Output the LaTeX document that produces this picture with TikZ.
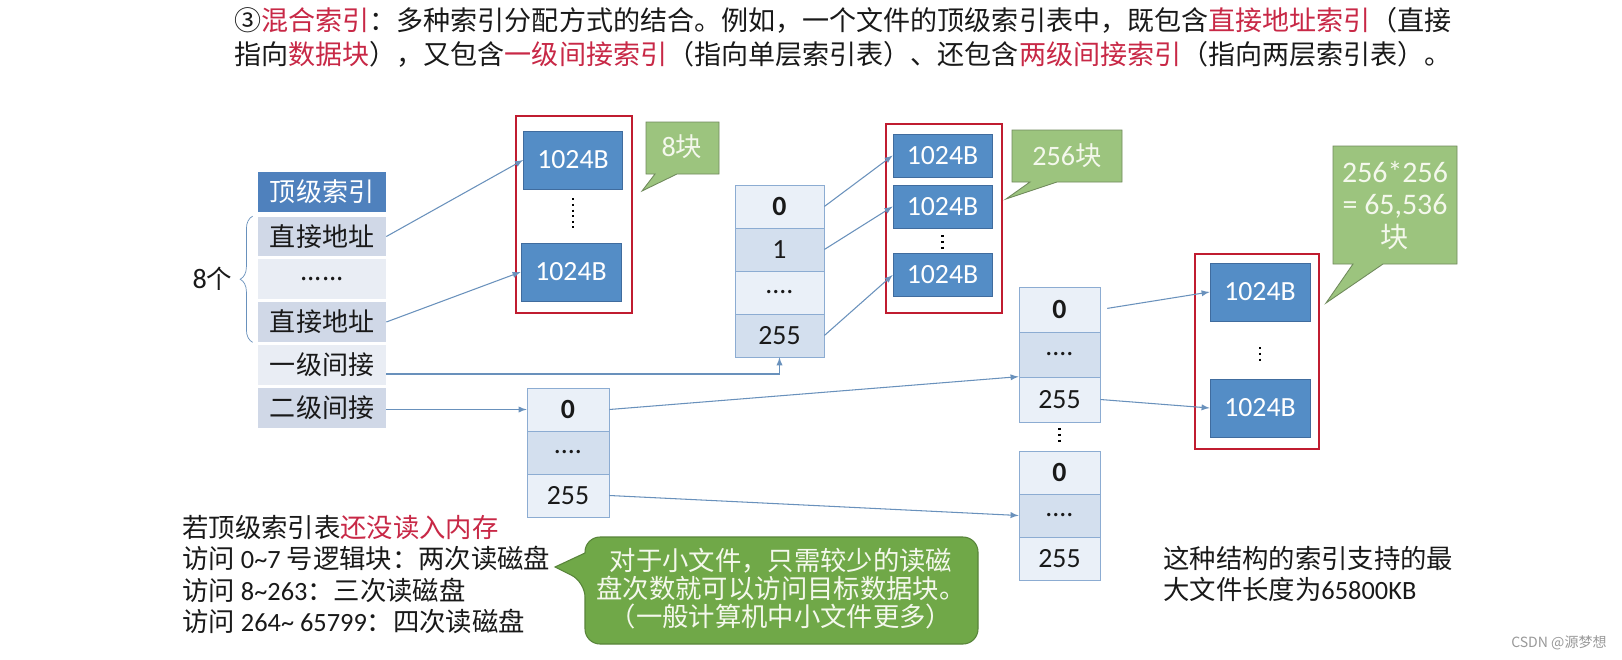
\documentclass[tikz,border=0pt]{standalone}
\usepackage{fontspec}
\setmainfont{Noto Sans CJK SC}
\newfontfamily\numfont{Carlito}
\usetikzlibrary{positioning,decorations.pathreplacing}

\definecolor{hdrblue}{RGB}{79,129,189}
\definecolor{blkblue}{RGB}{84,141,198}
\definecolor{blkline}{RGB}{64,108,158}
\definecolor{banddark}{RGB}{208,216,231}
\definecolor{bandlight}{RGB}{233,237,244}
\definecolor{celldark}{RGB}{211,223,238}
\definecolor{celllight}{RGB}{234,240,248}
\definecolor{cellline}{RGB}{140,172,210}
\definecolor{linkblue}{RGB}{105,145,188}
\definecolor{framered}{RGB}{192,28,48}
\definecolor{hlred}{RGB}{200,40,70}
\definecolor{tipgreen}{RGB}{156,196,126}
\definecolor{tipline}{RGB}{112,138,92}
\definecolor{notegreen}{RGB}{112,168,72}
\definecolor{noteline}{RGB}{88,132,58}
\definecolor{tiptext}{RGB}{244,248,236}
\definecolor{ink}{RGB}{25,25,25}

\tikzset{
  idxcell/.style={minimum width=2.56cm, minimum height=0.8cm, inner sep=0pt, text=ink, font=\fontsize{14.8}{16}\selectfont},
  lvcell/.style={draw=cellline, minimum height=0.86cm, inner sep=0pt, text=ink, font=\numfont\fontsize{15.8}{17}\selectfont},
  datablk/.style={draw=blkline, fill=blkblue, text=white, minimum width=1.98cm, minimum height=0.86cm, inner sep=0pt, font=\numfont\fontsize{15.8}{17}\selectfont},
  redframe/.style={draw=framered, line width=1.6pt},
  link/.style={draw=linkblue, line width=0.6pt, -latex},
  tipbox/.style={fill=tipgreen, draw=tipline, line width=0.5pt},
  tiplabel/.style={text=tiptext, inner sep=0pt, font=\fontsize{15}{18.5}\selectfont},
  vdots/.style={dotted, line width=1.2pt},
}

\begin{document}
\begin{tikzpicture}[x=0.02cm, y=-0.02cm]
\fill[white] (0,0) rectangle (1622,659);
\useasboundingbox (0,0) rectangle (1622,659);
% Title
\node[anchor=west, align=left, inner sep=0pt, text=ink, font=\fontsize{15.4}{19.4}\selectfont] (title) at (234,37)
  {③\textcolor{hlred}{混合索引}：多种索引分配方式的结合。例如，一个文件的顶级索引表中，既包含\textcolor{hlred}{直接地址索引}（直接\\指向\textcolor{hlred}{数据块}），又包含\textcolor{hlred}{一级间接索引}（指向单层索引表）、还包含\textcolor{hlred}{两级间接索引}（指向两层索引表）。};
% Top index
\node[idxcell, fill=hdrblue, text=white] (hdr) at (322,192) {顶级索引};
\node[idxcell, fill=banddark] (d1) at (322,236.5) {直接地址};
\node[idxcell, fill=bandlight] (dd) at (322,279) {......};
\node[idxcell, fill=banddark] (d2) at (322,322) {直接地址};
\node[idxcell, fill=bandlight] (ind1) at (322,365) {一级间接};
\node[idxcell, fill=banddark] (ind2) at (322,408) {二级间接};
\draw[linkblue, decorate, decoration={brace, amplitude=0.25cm}] ([xshift=-0.1cm]d2.south west) -- ([xshift=-0.1cm]d1.north west);
\node[left=0.5cm of dd, inner sep=0pt, text=ink, font=\fontsize{14.5}{16}\selectfont] (cnt) {{\numfont\fontsize{16}{17}\selectfont 8}个};
% Direct blocks
\draw[redframe] (516,116) rectangle (632,313);
\node[datablk, minimum height=1.16cm] (b11) at (573,160) {1024B};
\node[datablk, minimum height=1.16cm, minimum width=2cm] (b12) at (571,272) {1024B};
\draw[vdots, shorten <=0.18cm, shorten >=0.3cm] (b11.south) -- (b11.south |- b12.north);
\draw[tipbox] (646,122) -- (719,122) -- (719,174) -- (677,174) -- (642,191) -- (655,174) -- (646,174) -- cycle;
\node[tiplabel] (t8) at (682,147) {{\numfont\fontsize{16}{17}\selectfont 8}块};
% Single indirect
\node[lvcell, fill=celllight, minimum width=1.78cm] (f0) at (779.5,206.5) {\bfseries 0};
\node[lvcell, fill=celldark, minimum width=1.78cm] (f1) at (779.5,249.5) {1};
\node[lvcell, fill=celllight, minimum width=1.78cm] (f2) at (779.5,292.5) {....};
\node[lvcell, fill=celldark, minimum width=1.78cm] (f3) at (779.5,335.5) {255};
\draw[redframe] (886,124) rectangle (1002,313);
\node[datablk] (b21) at (942.5,155.5) {1024B};
\node[datablk] (b22) at (942.5,206.5) {1024B};
\node[datablk] (b23) at (942.5,275) {1024B};
\draw[vdots, shorten <=0.14cm, shorten >=0.07cm] (b22.south) -- (b23.north);
\draw[tipbox] (1012,130) -- (1122,130) -- (1122,182) -- (1057,182) -- (1006,199) -- (1030,182) -- (1012,182) -- cycle;
\node[tiplabel] (t256) at (1067,156) {{\numfont\fontsize{16}{17}\selectfont 256}块};
% Double indirect
\node[lvcell, fill=celllight, minimum width=1.64cm] (s0) at (568,409.5) {\bfseries 0};
\node[lvcell, fill=celldark, minimum width=1.64cm] (s1) at (568,452.5) {....};
\node[lvcell, fill=celllight, minimum width=1.64cm] (s2) at (568,495.5) {255};
\node[lvcell, fill=celllight, minimum width=1.62cm, minimum height=0.9cm] (u0) at (1059.5,309.5) {\bfseries 0};
\node[lvcell, fill=celldark, minimum width=1.62cm, minimum height=0.9cm] (u1) at (1059.5,354.5) {....};
\node[lvcell, fill=celllight, minimum width=1.62cm, minimum height=0.9cm] (u2) at (1059.5,399.5) {255};
\node[lvcell, fill=celllight, minimum width=1.62cm] (l0) at (1059.5,472.5) {\bfseries 0};
\node[lvcell, fill=celldark, minimum width=1.62cm] (l1) at (1059.5,515.5) {....};
\node[lvcell, fill=celllight, minimum width=1.62cm] (l2) at (1059.5,558.5) {255};
\draw[vdots, shorten <=0.12cm, shorten >=0.16cm] (u2.south) -- (l0.north);
\draw[redframe] (1195,254) rectangle (1319,449);
\node[datablk, minimum width=2cm, minimum height=1.16cm] (rb1) at (1260,292) {1024B};
\node[datablk, minimum width=2cm, minimum height=1.16cm] (rb2) at (1260,408) {1024B};
\draw[vdots, shorten <=0.52cm, shorten >=0.36cm] (rb1.south) -- (rb2.north);
\draw[tipbox] (1333,146) -- (1457,146) -- (1457,264) -- (1383,264) -- (1326,303) -- (1353,264) -- (1333,264) -- cycle;
\node[tiplabel, align=center, font=\fontsize{16}{18.5}\selectfont] (tbig) at (1395,205.5) {{\numfont\fontsize{17}{18.5}\selectfont 256*256}\\{\numfont\fontsize{17}{18.5}\selectfont = 65,536}\\块};
% Links
\draw[link] (d1.east) -- (b11.west);
\draw[link] (d2.east) -- (b12.west);
\draw[link] ([yshift=-0.18cm]ind1.east) -| (f3.south);
\draw[link] (ind2.east |- s0) -- (s0.west);
\draw[link] (f0.east) -- (b21.west);
\draw[link] (f1.east) -- (b22.west);
\draw[link] (f3.east) -- (b23.west);
\draw[link] (s0.east) -- (u2.north west);
\draw[link] (s2.east) -- (l1.west);
\draw[link, shorten <=0.14cm] (u0.east) -- (rb1.west);
\draw[link] (u2.east) -- (rb2.west);
% Notes
\node[anchor=west, align=left, inner sep=0pt, text=ink, font=\fontsize{15}{17.7}\selectfont] (readtxt) at (182,574.5)
  {若顶级索引表\textcolor{hlred}{还没读入内存}\\访问 {\numfont 0\textasciitilde7} 号逻辑块：两次读磁盘\\访问 {\numfont 8\textasciitilde263}：三次读磁盘\\访问 {\numfont 264\textasciitilde{} 65799}：四次读磁盘};
\draw[fill=notegreen, draw=noteline, line width=0.6pt] (555,567) -- (585,553) [rounded corners=0.3cm] -- (585,537) -- (978,537) -- (978,644) -- (585,644) -- (585,582) [sharp corners] -- cycle;
\node[align=center, inner sep=0pt, text=tiptext, font=\fontsize{15}{15.9}\selectfont] (note) at (781,589)
  {对于小文件，只需较少的读磁\\盘次数就可以访问目标数据块。\\（一般计算机中小文件更多）};
\node[anchor=west, align=left, inner sep=0pt, text=ink, font=\fontsize{15}{17.6}\selectfont] (maxtxt) at (1163,573.5)
  {这种结构的索引支持的最\\大文件长度为{\numfont 65800KB}};
\node[anchor=east, inner sep=0pt, text=black!40, font=\fontsize{8}{9}\selectfont] (mark) at (1607,643) {CSDN @源梦想};
\end{tikzpicture}
\end{document}
